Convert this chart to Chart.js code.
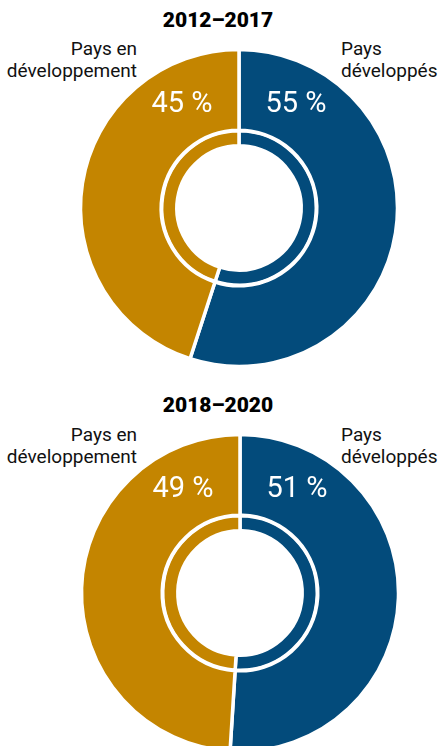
<!DOCTYPE html>
<html>
<head>
<meta charset="utf-8">
<script src="https://cdn.jsdelivr.net/npm/chart.js@4"></script>
<style>
  html, body { margin: 0; padding: 0; background: #fff; overflow: hidden; }
  body { width: 444px; height: 746px; position: relative; font-family: Roboto, sans-serif; color: #111; }
  canvas { position: absolute; }
  .title { position: absolute; width: 444px; left: -4px; text-align: center; font-weight: 900; font-size: 21px; color: #000; }
  .lab { position: absolute; font-size: 19px; line-height: 22px; }
  .left { text-align: right; right: 307px; }
  .right { text-align: left; left: 341px; }
</style>
</head>
<body>
<div class="title" style="top:8px" id="t1"></div>
<div class="lab left" style="top:38px" id="l1"></div>
<div class="lab right" style="top:38px" id="r1"></div>
<canvas id="c1" width="340" height="340" style="left:69px;top:38px"></canvas>

<div class="title" style="top:393px" id="t2"></div>
<div class="lab left" style="top:424px" id="l2"></div>
<div class="lab right" style="top:424px" id="r2"></div>
<canvas id="c2" width="340" height="340" style="left:70px;top:423px"></canvas>

<script>
// shares by period, developed vs developing countries
const periods = ['2012–2017', '2018–2020'];
const categories = ['Pays développés', 'Pays en développement'];
const developed = [55, 51];
const developing = [45, 49];

const BLUE = '#034b7b';
const GOLD = '#c48500';

document.getElementById('t1').textContent = periods[0];
document.getElementById('t2').textContent = periods[1];
['l1', 'l2'].forEach(id => document.getElementById(id).innerHTML = 'Pays en<br>développement');
['r1', 'r2'].forEach(id => document.getElementById(id).innerHTML = 'Pays<br>développés');

// percent labels near the top of the outer ring
const pctLabels = {
  id: 'pctLabels',
  afterDatasetsDraw(chart) {
    const ctx = chart.ctx;
    const meta = chart.getDatasetMeta(0);
    const vals = chart.data.datasets[0].data;
    ctx.save();
    ctx.fillStyle = '#fff';
    ctx.font = '29px Roboto, sans-serif';
    ctx.textAlign = 'center';
    ctx.textBaseline = 'middle';
    meta.data.forEach((arc, i) => {
      const mid = (arc.startAngle + arc.endAngle) / 2;
      const side = Math.cos(mid) >= 0 ? 1 : -1;
      ctx.fillText(vals[i] + ' %', arc.x + side * 57, arc.y - 103);
    });
    ctx.restore();
  }
};

function makeDonut(id, k) {
  const values = [developed[k], developing[k]];
  new Chart(document.getElementById(id), {
    type: 'doughnut',
    data: {
      labels: categories,
      datasets: [
        { data: values, backgroundColor: [BLUE, GOLD], borderColor: '#fff', borderWidth: 3.5, weight: 77.5 },
        { data: values, backgroundColor: 'rgba(0,0,0,0)', borderWidth: 0, weight: 0.5 },
        { data: values, backgroundColor: [BLUE, GOLD], borderColor: '#fff', borderWidth: 3.5, weight: 14.5 }
      ]
    },
    options: {
      responsive: false,
      animation: false,
      radius: 158.5,
      cutout: 66,
      layout: { padding: 0 },
      plugins: { legend: { display: false }, tooltip: { enabled: false } }
    },
    plugins: [pctLabels]
  });
}

makeDonut('c1', 0);
makeDonut('c2', 1);
</script>
</body>
</html>
